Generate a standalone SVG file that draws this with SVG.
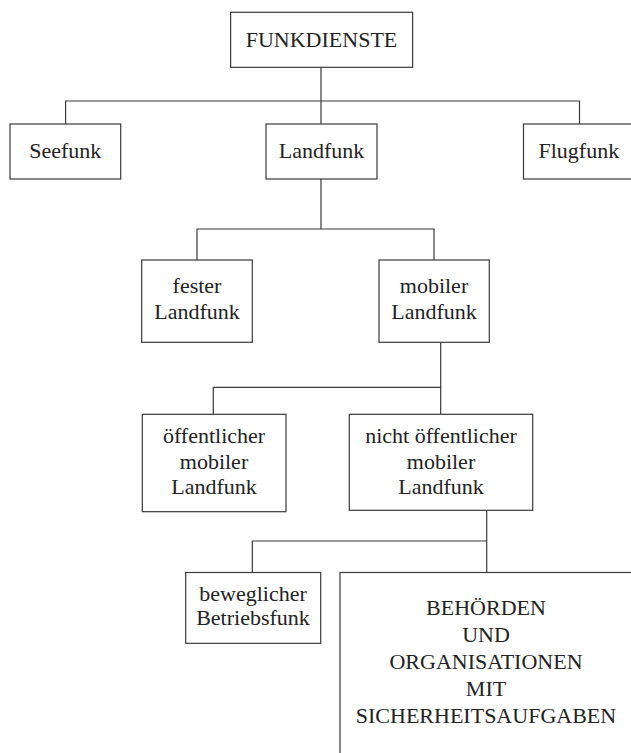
<svg xmlns="http://www.w3.org/2000/svg" width="631" height="753" viewBox="0 0 631 753">
<style>
.box{fill:#fff;stroke:#3a3a3a;stroke-width:1.2}
.ln{fill:none;stroke:#3a3a3a;stroke-width:1.2}
text{font-family:"Liberation Serif","Times New Roman",serif;font-size:22px;fill:#222;text-anchor:middle}
</style>
<rect width="631" height="753" fill="#fff"/>
<g id="connectors">
<path class="ln" d="M321,67V101M65.6,124V101H579.5V124M321,101V124"/>
<path class="ln" d="M321,179V229M197,260V229H434V260"/>
<path class="ln" d="M440.7,342V387.3M213.3,414V387.3H440.7V414"/>
<path class="ln" d="M486.7,510V541M252.3,572V541H486.7V572"/>
</g>
<g id="funkdienste"><rect class="box" x="230.6" y="12.3" width="182" height="55"/><text x="321.5" y="47">FUNKDIENSTE</text></g>
<g id="seefunk"><rect class="box" x="10" y="124" width="110.7" height="55"/><text x="65.3" y="157.5">Seefunk</text></g>
<g id="landfunk"><rect class="box" x="266" y="124" width="111" height="55"/><text x="321.5" y="157.5">Landfunk</text></g>
<g id="flugfunk"><rect class="box" x="523.5" y="124" width="112" height="55"/><text x="578.8" y="157.5">Flugfunk</text></g>
<g id="fester"><rect class="box" x="141.7" y="260" width="110.6" height="82.3"/><text x="197" y="293">fester</text><text x="197" y="319">Landfunk</text></g>
<g id="mobiler"><rect class="box" x="379" y="260" width="110.3" height="82.3"/><text x="434" y="293">mobiler</text><text x="434" y="319">Landfunk</text></g>
<g id="oeffentlicher"><rect class="box" x="142.3" y="414.3" width="143.7" height="97.4"/><text x="214" y="442.7">öffentlicher</text><text x="214" y="468.5">mobiler</text><text x="214" y="494">Landfunk</text></g>
<g id="nicht-oeffentlicher"><rect class="box" x="349.3" y="414.3" width="183.4" height="96"/><text x="441" y="442.7">nicht öffentlicher</text><text x="441" y="468.5">mobiler</text><text x="441" y="494">Landfunk</text></g>
<g id="beweglicher"><rect class="box" x="185.7" y="572.5" width="135" height="70.8"/><text x="253" y="600.7">beweglicher</text><text x="253" y="625">Betriebsfunk</text></g>
<g id="behoerden"><rect class="box" x="340" y="572.5" width="300" height="200"/><text x="486" y="615">BEHÖRDEN</text><text x="486" y="642">UND</text><text x="486" y="669">ORGANISATIONEN</text><text x="486" y="695.5">MIT</text><text x="486" y="722.5">SICHERHEITSAUFGABEN</text></g>
</svg>
